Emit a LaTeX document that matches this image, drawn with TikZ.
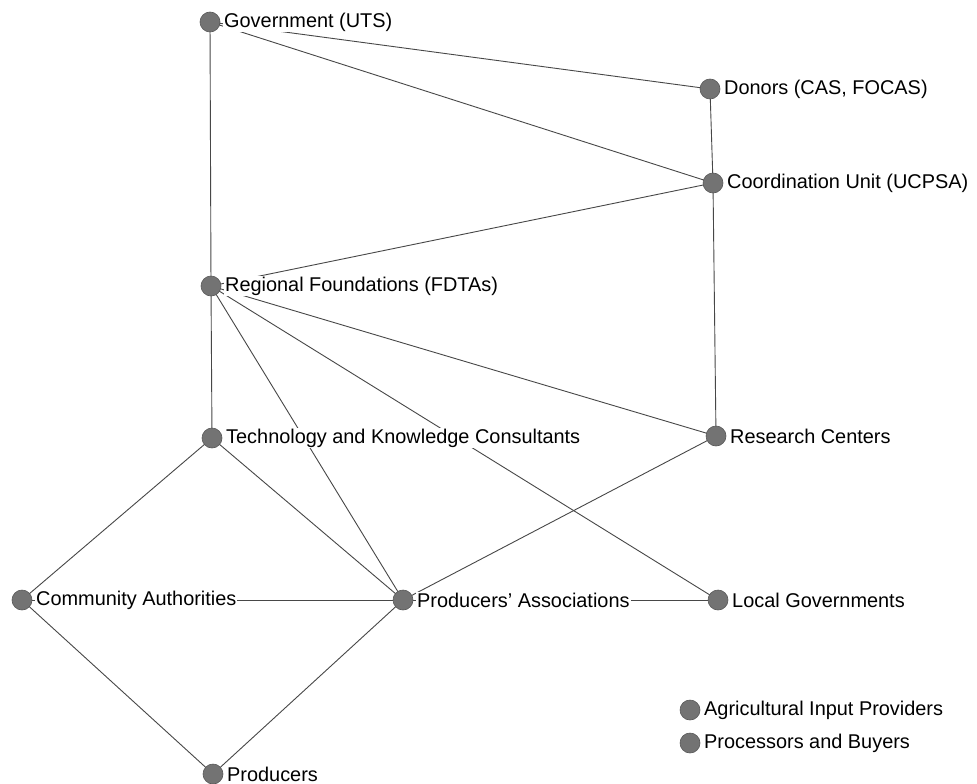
\documentclass[tikz,border=0pt]{standalone}
\usepackage{fontspec}
\setmainfont{Liberation Sans}
\begin{document}
\begin{tikzpicture}[x=1pt,y=-1pt,
  dot/.style={circle,draw=black!65,fill=black!55,line width=0.6pt,minimum size=20pt,inner sep=0pt},
  lbl/.style={anchor=west,fill=white,inner sep=1pt,font=\fontsize{19.9}{24}\selectfont},
  edge/.style={draw=black!72,line width=0.9pt}]
\useasboundingbox[fill=white] (0,0) rectangle (977,784);
% positions
\coordinate (gov) at (210,22);
\coordinate (don) at (710,89);
\coordinate (coo) at (713,183);
\coordinate (reg) at (211,286);
\coordinate (tec) at (212,438);
\coordinate (res) at (716,436);
\coordinate (com) at (22,600);
\coordinate (pas) at (403,600);
\coordinate (loc) at (718,600);
\coordinate (pro) at (213,774);
\coordinate (agr) at (690,710);
\coordinate (prb) at (690,743);
% edges
\draw[edge] (gov) -- (don);
\draw[edge] (gov) -- (coo);
\draw[edge] (gov) -- (reg);
\draw[edge] (don) -- (coo);
\draw[edge] (coo) -- (reg);
\draw[edge] (coo) -- (res);
\draw[edge] (reg) -- (tec);
\draw[edge] (reg) -- (pas);
\draw[edge] (reg) -- (loc);
\draw[edge] (reg) -- (res);
\draw[edge] (tec) -- (com);
\draw[edge] (tec) -- (pas);
\draw[edge] (res) -- (pas);
\draw[edge] (com) -- (pas);
\draw[edge] (pas) -- (loc);
\draw[edge] (com) -- (pro);
\draw[edge] (pas) -- (pro);
% labels
\node[lbl] (govL) at ([xshift=13pt]gov) {Government (UTS)};
\node[lbl] (donL) at ([xshift=13pt]don) {Donors (CAS, FOCAS)};
\node[lbl] (cooL) at ([xshift=13pt]coo) {Coordination Unit (UCPSA)};
\node[lbl] (regL) at ([xshift=13pt]reg) {Regional Foundations (FDTAs)};
\node[lbl] (tecL) at ([xshift=13pt]tec) {Technology and Knowledge Consultants};
\node[lbl] (resL) at ([xshift=13pt]res) {Research Centers};
\node[lbl] (comL) at ([xshift=13pt]com) {Community Authorities};
\node[lbl] (pasL) at ([xshift=13pt]pas) {Producers’ Associations};
\node[lbl] (locL) at ([xshift=13pt]loc) {Local Governments};
\node[lbl] (proL) at ([xshift=13pt]pro) {Producers};
\node[lbl] (agrL) at ([xshift=13pt]agr) {Agricultural Input Providers};
\node[lbl] (prbL) at ([xshift=13pt]prb) {Processors and Buyers};
% dots
\foreach \p in {gov,don,coo,reg,tec,res,com,pas,loc,pro,agr,prb}
  \node[dot] (\p D) at (\p) {};
\end{tikzpicture}
\end{document}
